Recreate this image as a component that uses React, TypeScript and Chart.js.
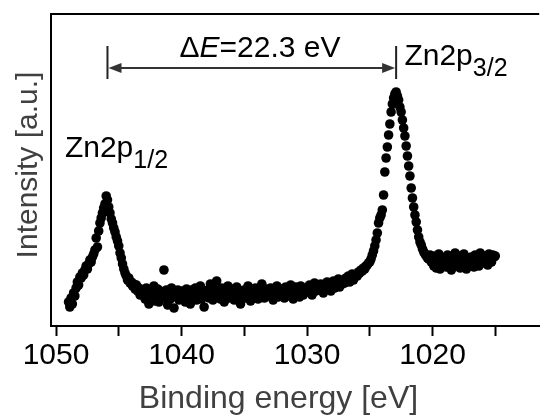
import React, { useEffect, useRef } from "react";
import { Chart, registerables } from "chart.js";

Chart.register(...registerables);

// ---- data ----
const ENERGY_START = 1049.0; // eV, first sample (left end)
const ENERGY_STEP = 0.1; // eV between samples, going to lower binding energy

const INTENSITY: number[] = [
  24, 19, 28, 22, 33, 30, 38, 44, 41, 49,
  48, 53, 51, 56, 60, 57, 62, 66, 64, 69,
  72, 76, 88, 79, 95, 103, 108, 113, 118, 122,
  130, 126, 119, 113, 107, 103, 98, 94, 89, 85,
  80, 73, 68, 62, 57, 53, 50, 46, 48, 43,
  44, 40, 42, 37, 41, 35, 38, 31, 36, 33,
  34, 27, 38, 30, 22, 36, 29, 33, 40, 25,
  31, 37, 24, 35, 29, 33, 56, 28, 36, 21,
  33, 27, 38, 30, 18, 34, 29, 36, 26, 32,
  35, 28, 31, 24, 37, 30, 33, 22, 36, 29,
  31, 38, 26, 34, 29, 40, 27, 33, 19, 35,
  30, 36, 28, 42, 33, 26, 37, 31, 45, 29,
  34, 27, 38, 32, 24, 36, 30, 40, 28, 35,
  31, 37, 26, 33, 39, 29, 35, 22, 34, 30,
  36, 28, 33, 40, 31, 25, 37, 32, 29, 38,
  33, 27, 36, 30, 42, 34, 28, 37, 31, 35,
  30, 38, 34, 26, 37, 32, 40, 29, 35, 33,
  37, 31, 28, 39, 34, 36, 30, 41, 33, 27,
  35, 39, 32, 37, 29, 40, 34, 31, 38, 36,
  38, 34, 41, 36, 31, 39, 43, 35, 37, 40,
  36, 42, 39, 33, 41, 38, 44, 37, 40, 35,
  41, 45, 38, 43, 40, 47, 39, 44, 42, 46,
  43, 48, 45, 50, 44, 47, 52, 46, 49, 51,
  50, 54, 53, 56, 55, 58, 57, 60, 61, 63,
  64, 67, 71, 75, 80, 86, 93, 103, 108, 111,
  116, 131, 154, 168, 179, 191, 202, 214, 222, 228,
  232, 234, 230, 226, 219, 214, 206, 198, 190, 180,
  170, 160, 150, 138, 128, 119, 111, 104, 96, 89,
  84, 81, 77, 74, 72, 70, 68, 67, 71, 64,
  66, 60, 70, 58, 64, 72, 57, 63, 68, 61,
  67, 59, 71, 62, 65, 56, 69, 63, 73, 60,
  64, 70, 58, 66, 61, 72, 63, 57, 68, 65,
  62, 69, 66, 59, 71, 64, 67, 60, 73, 65,
  68, 63, 70, 66, 61, 72, 67, 64, 71, 69,
  70,
];

const X_TICKS = [1015, 1020, 1025, 1030, 1035, 1040, 1045, 1050];
const X_MIN = 1011.5;
const X_MAX = 1050.4;
const Y_MIN = 0;
const Y_MAX = 312;

const X_TITLE = "Binding energy [eV]";
const Y_TITLE = "Intensity [a.u.]";

// annotations (data coordinates)
const PEAK_LABELS = [
  { main: "Zn2p", sub: "1/2", energy: 1049.29, intensity: 169 },
  { main: "Zn2p", sub: "3/2", energy: 1022.24, intensity: 261 },
];
const SPLIT = {
  from: 1045.9,
  to: 1022.9,
  level: 258,
  barTop: 280,
  barBottom: 247,
  labelEnergy: 1033.75,
  labelIntensity: 269,
  parts: [
    { text: "\u0394", italic: false },
    { text: "E", italic: true },
    { text: "=22.3 eV", italic: false },
  ],
};

// ---- layout / style ----
const FONT_FAMILY = "'Liberation Sans', Arial, sans-serif";
const TITLE_COLOR = "#404040";

const annotationPlugin = {
  id: "xpsAnnotations",
  afterDraw(chart: any) {
    const { ctx, chartArea } = chart;
    const x = chart.scales.x;
    const y = chart.scales.y;
    ctx.save();

    // top frame line
    ctx.strokeStyle = "#000";
    ctx.lineWidth = 2;
    ctx.beginPath();
    ctx.moveTo(chartArea.left - 1, chartArea.top);
    ctx.lineTo(chartArea.right, chartArea.top);
    ctx.stroke();

    // splitting arrow
    const x1 = x.getPixelForValue(SPLIT.from);
    const x2 = x.getPixelForValue(SPLIT.to);
    const yl = y.getPixelForValue(SPLIT.level);
    const yt = y.getPixelForValue(SPLIT.barTop);
    const yb = y.getPixelForValue(SPLIT.barBottom);
    ctx.strokeStyle = "#222";
    ctx.lineWidth = 2;
    ctx.beginPath();
    ctx.moveTo(x1, yt);
    ctx.lineTo(x1, yb);
    ctx.moveTo(x2, yt);
    ctx.lineTo(x2, yb);
    ctx.stroke();
    const head = 13;
    const half = 5;
    ctx.strokeStyle = "#333";
    ctx.beginPath();
    ctx.moveTo(x1 + head, yl);
    ctx.lineTo(x2 - head, yl);
    ctx.stroke();
    ctx.fillStyle = "#333";
    ctx.beginPath();
    ctx.moveTo(x1 + 1, yl);
    ctx.lineTo(x1 + 1 + head, yl - half);
    ctx.lineTo(x1 + 1 + head, yl + half);
    ctx.closePath();
    ctx.fill();
    ctx.beginPath();
    ctx.moveTo(x2 - 1, yl);
    ctx.lineTo(x2 - 1 - head, yl - half);
    ctx.lineTo(x2 - 1 - head, yl + half);
    ctx.closePath();
    ctx.fill();

    // splitting label
    ctx.fillStyle = "#000";
    ctx.textBaseline = "alphabetic";
    ctx.textAlign = "left";
    const fontFor = (italic: boolean) =>
      (italic ? "italic " : "") + "30px " + FONT_FAMILY;
    let total = 0;
    const widths = SPLIT.parts.map((p) => {
      ctx.font = fontFor(p.italic);
      const w = ctx.measureText(p.text).width;
      total += w;
      return w;
    });
    let cx = x.getPixelForValue(SPLIT.labelEnergy) - total / 2;
    const cy = y.getPixelForValue(SPLIT.labelIntensity);
    SPLIT.parts.forEach((p, i) => {
      ctx.font = fontFor(p.italic);
      ctx.fillText(p.text, cx, cy);
      cx += widths[i];
    });

    // peak labels
    PEAK_LABELS.forEach((lab) => {
      const px = x.getPixelForValue(lab.energy);
      const py = y.getPixelForValue(lab.intensity);
      ctx.font = "30px " + FONT_FAMILY;
      ctx.fillText(lab.main, px, py);
      const w = ctx.measureText(lab.main).width;
      ctx.font = "25px " + FONT_FAMILY;
      ctx.fillText(lab.sub, px + w, py + 11);
    });

    // axis titles
    ctx.fillStyle = TITLE_COLOR;
    ctx.textAlign = "center";
    ctx.font = "32px " + FONT_FAMILY;
    ctx.fillText(X_TITLE, 278.5, 408);
    ctx.translate(37, 165);
    ctx.rotate(-Math.PI / 2);
    ctx.font = "30px " + FONT_FAMILY;
    ctx.fillText(Y_TITLE, 0, 0);

    ctx.restore();
  },
};

export default function App() {
  const canvasRef = useRef<HTMLCanvasElement | null>(null);

  useEffect(() => {
    const canvas = canvasRef.current;
    if (!canvas) return;
    const points = INTENSITY.map((v, i) => ({
      x: Math.round((ENERGY_START - i * ENERGY_STEP) * 10) / 10,
      y: v,
    }));
    const chart = new Chart(canvas, {
      type: "scatter",
      data: {
        datasets: [
          {
            data: points,
            pointRadius: 4.8,
            pointHoverRadius: 4.8,
            pointBackgroundColor: "#000",
            pointBorderColor: "#000",
            pointBorderWidth: 0,
            showLine: false,
          },
        ],
      },
      options: {
        responsive: false,
        animation: false,
        events: [],
        layout: { padding: { top: 14, right: 0, bottom: 0, left: 0 } },
        plugins: {
          legend: { display: false },
          tooltip: { enabled: false },
          title: { display: false },
        },
        scales: {
          x: {
            type: "linear",
            position: "bottom",
            reverse: true,
            min: X_MIN,
            max: X_MAX,
            afterBuildTicks: (scale: any) => {
              scale.ticks = X_TICKS.map((v) => ({ value: v }));
            },
            afterFit: (scale: any) => {
              scale.height = 90;
            },
            ticks: {
              autoSkip: false,
              maxRotation: 0,
              minRotation: 0,
              padding: 2,
              color: "#000",
              font: { family: FONT_FAMILY, size: 30 },
              callback: (v: any) => (Number(v) % 10 === 0 ? String(v) : ""),
            },
            grid: {
              display: true,
              drawOnChartArea: false,
              drawTicks: true,
              tickLength: 10,
              tickWidth: 2,
              tickColor: "#000",
            },
            border: { display: true, color: "#000", width: 2 },
            title: { display: false },
          },
          y: {
            type: "linear",
            position: "left",
            min: Y_MIN,
            max: Y_MAX,
            afterFit: (scale: any) => {
              scale.width = 51;
            },
            ticks: { display: false },
            grid: { display: false, drawTicks: false },
            border: { display: true, color: "#000", width: 2 },
            title: { display: false },
          },
        },
      },
      plugins: [annotationPlugin],
    });
    return () => chart.destroy();
  }, []);

  return (
    <div style={{ position: "fixed", left: 0, top: 0, width: 544, height: 416, background: "#fff" }}>
      <canvas ref={canvasRef} width={544} height={416} style={{ display: "block" }} />
    </div>
  );
}
